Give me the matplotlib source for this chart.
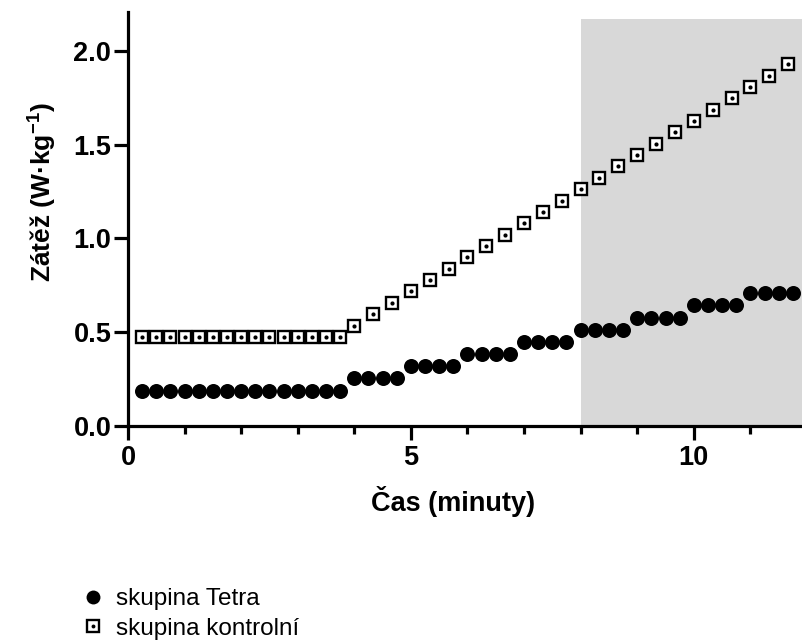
import matplotlib
matplotlib.use("Agg")
import matplotlib.pyplot as plt
from matplotlib.lines import Line2D
from matplotlib.legend_handler import HandlerTuple
from matplotlib.ticker import MultipleLocator

plt.rcParams['font.family'] = ['Liberation Sans', 'DejaVu Sans']
plt.rcParams['mathtext.fontset'] = 'custom'
plt.rcParams['mathtext.rm'] = 'Liberation Sans'
plt.rcParams['mathtext.bf'] = 'Liberation Sans:bold'

# Tetra group (circles), every 15 s
tetra_time = [0.25, 0.5, 0.75, 1.0, 1.25, 1.5, 1.75, 2.0, 2.25, 2.5, 2.75, 3.0, 3.25, 3.5, 3.75,
              4.0, 4.25, 4.5, 4.75, 5.0, 5.25, 5.5, 5.75, 6.0, 6.25, 6.5, 6.75,
              7.0, 7.25, 7.5, 7.75, 8.0, 8.25, 8.5, 8.75, 9.0, 9.25, 9.5, 9.75,
              10.0, 10.25, 10.5, 10.75, 11.0, 11.25, 11.5, 11.75]
tetra_load = [0.188] * 15 + [0.256] * 4 + [0.318] * 4 + [0.384] * 4 + [0.447] * 4 + \
             [0.512] * 4 + [0.578] * 4 + [0.643] * 4 + [0.708] * 4

# Control group (squares)
ctrl_time = [0.25, 0.5, 0.75, 1.0, 1.25, 1.5, 1.75, 2.0, 2.25, 2.5, 2.75, 3.0, 3.25, 3.5, 3.75,
             4.0, 4.333, 4.667, 5.0, 5.333, 5.667, 6.0, 6.333, 6.667, 7.0, 7.333, 7.667,
             8.0, 8.333, 8.667, 9.0, 9.333, 9.667, 10.0, 10.333, 10.667, 11.0, 11.333, 11.667]
ctrl_load = [0.475] * 15 + [0.535, 0.597, 0.657, 0.718, 0.778, 0.838, 0.899, 0.959, 1.020,
                            1.080, 1.141, 1.201, 1.262, 1.324, 1.384, 1.445, 1.505, 1.566,
                            1.626, 1.686, 1.747, 1.807, 1.867, 1.928]

shade_start = 8.0
x_ticks = [0, 5, 10]
y_ticks = [0.0, 0.5, 1.0, 1.5, 2.0]
y_ticklabels = ['0.0', '0.5', '1.0', '1.5', '2.0']
legend_labels = ['skupina Tetra', 'skupina kontrolní']

fig = plt.figure(figsize=(8.03, 6.43), dpi=100)
ax = fig.add_axes([0.1594, 0.3375, 0.8406, 0.6439])
ax.set_xlim(0, 11.93)
ax.set_ylim(0, 2.207)

ax.axvspan(shade_start, 11.93, ymin=0, ymax=2.17 / 2.207, color='#d8d8d8', lw=0, zorder=0)

circ, = ax.plot(tetra_time, tetra_load, 'o', color='black', ms=10.8, mew=0, zorder=3, clip_on=False)
sq, = ax.plot(ctrl_time, ctrl_load, 's', mfc='white', mec='black', ms=8.9, mew=1.7, zorder=3, clip_on=False)
dot, = ax.plot(ctrl_time, ctrl_load, 'o', color='black', ms=3.0, mew=0, zorder=4, clip_on=False)

for s in ['top', 'right']:
    ax.spines[s].set_visible(False)
for s in ['left', 'bottom']:
    ax.spines[s].set_linewidth(2.3)

ax.set_xticks(x_ticks)
ax.xaxis.set_minor_locator(MultipleLocator(1))
ax.set_yticks(y_ticks)
ax.set_yticklabels(y_ticklabels)
ax.tick_params(axis='both', which='major', width=2.3, length=10, labelsize=19.5)
ax.tick_params(axis='x', which='minor', width=2.3, length=6)
ax.tick_params(axis='x', which='major', pad=4)
ax.tick_params(axis='y', which='major', pad=2)
for lab in ax.get_xticklabels() + ax.get_yticklabels():
    lab.set_fontweight('bold')

ax.set_xlabel('Čas (minuty)', fontsize=19.5, fontweight='bold')
ax.xaxis.set_label_coords(0.481, -0.145)
ax.set_ylabel('Zátěž (W·kg$^{\\mathbf{-1}}$)', fontsize=19, fontweight='bold')
ax.yaxis.set_label_coords(-0.103, 0.565)

h1 = Line2D([], [], marker='o', ls='', color='black', ms=10, mew=0)
h2a = Line2D([], [], marker='s', ls='', mfc='white', mec='black', ms=8.2, mew=1.7)
h2b = Line2D([], [], marker='o', ls='', color='black', ms=2.8, mew=0)
fig.legend([h1, (h2a, h2b)], legend_labels, loc='upper left',
           bbox_to_anchor=(0.0996, 0.085), frameon=False, fontsize=17.5,
           handler_map={tuple: HandlerTuple(ndivide=1)},
           handlelength=1.1, handletextpad=0.4, labelspacing=0.3, borderaxespad=0, borderpad=0)

fig.savefig('out.png', dpi=100)
